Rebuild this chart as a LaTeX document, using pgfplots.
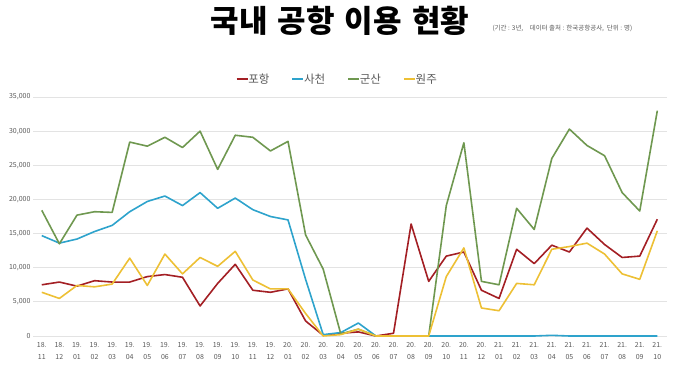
\documentclass[border=0pt]{standalone}
\usepackage{pgfplots}
\usepackage{pgfplotstable}
\pgfplotsset{compat=1.18}
\usepackage{fontspec}
\setmainfont{Noto Sans CJK KR}
\definecolor{cP}{HTML}{A31F24}
\definecolor{cS}{HTML}{2EA3CC}
\definecolor{cG}{HTML}{6F9850}
\definecolor{cW}{HTML}{EDC035}
\definecolor{gridc}{HTML}{E3E3E3}
\definecolor{txt}{HTML}{595959}
\pgfplotstableread{
x p s g w
0 7500 14700 18400 6400
1 7900 13600 13500 5500
2 7300 14200 17700 7400
3 8100 15300 18200 7200
4 7900 16200 18100 7600
5 7900 18200 28400 11400
6 8700 19700 27800 7400
7 9000 20500 29100 12000
8 8600 19100 27600 9100
9 4400 21000 30000 11500
10 7700 18700 24400 10200
11 10500 20200 29400 12400
12 6700 18500 29100 8200
13 6400 17500 27100 6900
14 6900 17000 28500 6900
15 2200 8300 14800 3300
16 100 200 9800 0
17 400 500 300 200
18 600 1900 1000 1000
19 0 0 0 0
20 400 0 0 0
21 16400 0 0 0
22 8000 0 0 0
23 11700 0 19100 8700
24 12300 0 28300 12900
25 6700 0 8000 4100
26 5500 0 7500 3700
27 12700 0 18700 7700
28 10600 0 15600 7500
29 13300 100 26000 12700
30 12300 0 30300 13100
31 15800 0 27900 13600
32 13400 0 26400 12000
33 11500 0 21000 9100
34 11700 0 18300 8300
35 17100 0 33000 15400
}\data
\begin{document}
\begin{tikzpicture}[x=1pt,y=1pt]
\path[use as bounding box] (0,0) rectangle (680,383);
\begin{axis}[
  at={(33pt,47pt)}, anchor=south west,
  scale only axis, width=634pt, height=239pt,
  xmin=-0.5, xmax=35.55, ymin=0, ymax=35000,
  axis line style={draw=none},
  ymajorgrids, major grid style={gridc, line width=0.8pt},
  tick style={draw=none},
  ytick={0,5000,...,35000},
  xtick={0,...,35},
  xticklabels={{18.\\11},{18.\\12},{19.\\01},{19.\\02},{19.\\03},{19.\\04},{19.\\05},{19.\\06},{19.\\07},{19.\\08},{19.\\09},{19.\\10},{19.\\11},{19.\\12},{20.\\01},{20.\\02},{20.\\03},{20.\\04},{20.\\05},{20.\\06},{20.\\07},{20.\\08},{20.\\09},{20.\\10},{20.\\11},{20.\\12},{21.\\01},{21.\\02},{21.\\03},{21.\\04},{21.\\05},{21.\\06},{21.\\07},{21.\\08},{21.\\09},{21.\\10}},
  xticklabel style={align=center, font=\fontsize{7}{12}\selectfont, text=txt, yshift=-2.5pt},
  yticklabel style={font=\fontsize{7}{8}\selectfont, text=txt, xshift=1pt},
  /pgf/number format/assume math mode=true,
  /pgf/number format/1000 sep={,},
  scaled y ticks=false,
  legend style={at={(0.480,1.075)}, anchor=center, draw=none, fill=none,
    legend columns=-1, font=\fontsize{11.5}{12}\selectfont, text=txt,
    /tikz/every even column/.append style={column sep=20pt},
    /tikz/every odd column/.append style={column sep=-2pt}},
  legend image code/.code={\draw[#1, line width=1.6pt] (0pt,0pt) -- (11pt,0pt);},
  every axis plot/.append style={line width=1.6pt, mark=none, line join=round},
]
\addplot[cP] table[x=x,y=p]{\data};
\addplot[cS] table[x=x,y=s]{\data};
\addplot[cG] table[x=x,y=g]{\data};
\addplot[cW] table[x=x,y=w]{\data};
\legend{포항,사천,군산,원주}
\end{axis}
\node[font=\fontsize{31}{32}\selectfont\bfseries] at (340,362) {국내\hspace{10pt}공항\hspace{10pt}이용\hspace{10pt}현황};
\node[font=\fontsize{6.5}{8}\selectfont, anchor=west, text=txt] at (489,355) {(기간 : 3년,\quad 데이터 출처 : 한국공항공사,\ \ 단위 : 명)};
\end{tikzpicture}
\end{document}
